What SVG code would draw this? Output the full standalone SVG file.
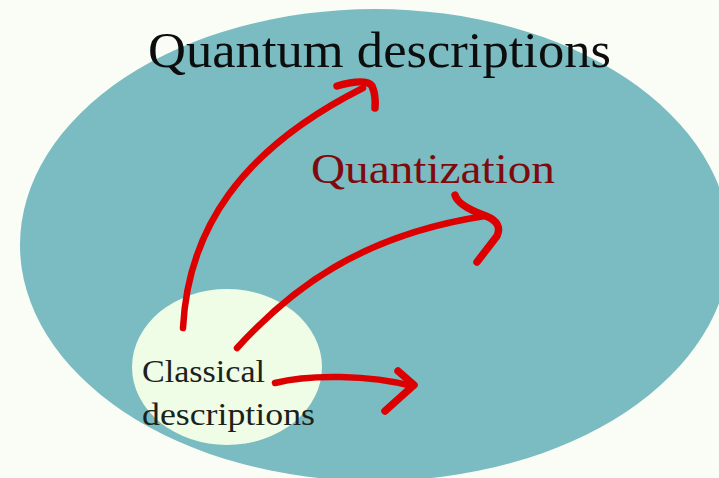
<svg xmlns="http://www.w3.org/2000/svg" width="719" height="478" viewBox="0 0 719 478">
<style>
.arrow{fill:none;stroke:#dc0000;stroke-width:6.5;stroke-linecap:round;stroke-linejoin:round}
.head{fill:none;stroke:#dc0000;stroke-width:7.5;stroke-linecap:round;stroke-linejoin:round}
.serif{font-family:"Liberation Serif","Times New Roman",serif}
</style>
<rect x="0" y="0" width="719" height="478" fill="#fafdf5"/>
<g id="quantum">
<ellipse cx="375" cy="245" rx="355" ry="236" fill="#7abcc1"/>
<text class="serif" x="148" y="67" font-size="50" textLength="463" lengthAdjust="spacingAndGlyphs" fill="#0d0d0d">Quantum descriptions</text>
</g>
<g id="classical">
<ellipse cx="227" cy="367" rx="95" ry="78" fill="#effce6"/>
<text class="serif" x="142" y="382" font-size="31" textLength="123" lengthAdjust="spacingAndGlyphs" fill="#1a221a">Classical</text>
<text class="serif" x="142" y="425" font-size="31" textLength="173" lengthAdjust="spacingAndGlyphs" fill="#1a221a">descriptions</text>
</g>
<g id="quantization-label">
<text class="serif" x="311" y="183" font-size="42" textLength="244" lengthAdjust="spacingAndGlyphs" fill="#7e0a0e">Quantization</text>
</g>
<g id="connectors">
<path class="arrow" d="M183,328 C188,230 240,150 363,88"/>
<path class="head" d="M337,86 Q366,78 372,86 Q376,95 375,108"/>
<path class="arrow" d="M237,348 C290,290 360,235 485,216"/>
<path class="head" d="M455,195 Q458,206 486,216 Q503,223 497,236 L477,262"/>
<path class="arrow" d="M275,383 C310,374 370,375 412,386"/>
<path class="head" d="M398,371 L414,385 L385,411"/>
</g>
</svg>
